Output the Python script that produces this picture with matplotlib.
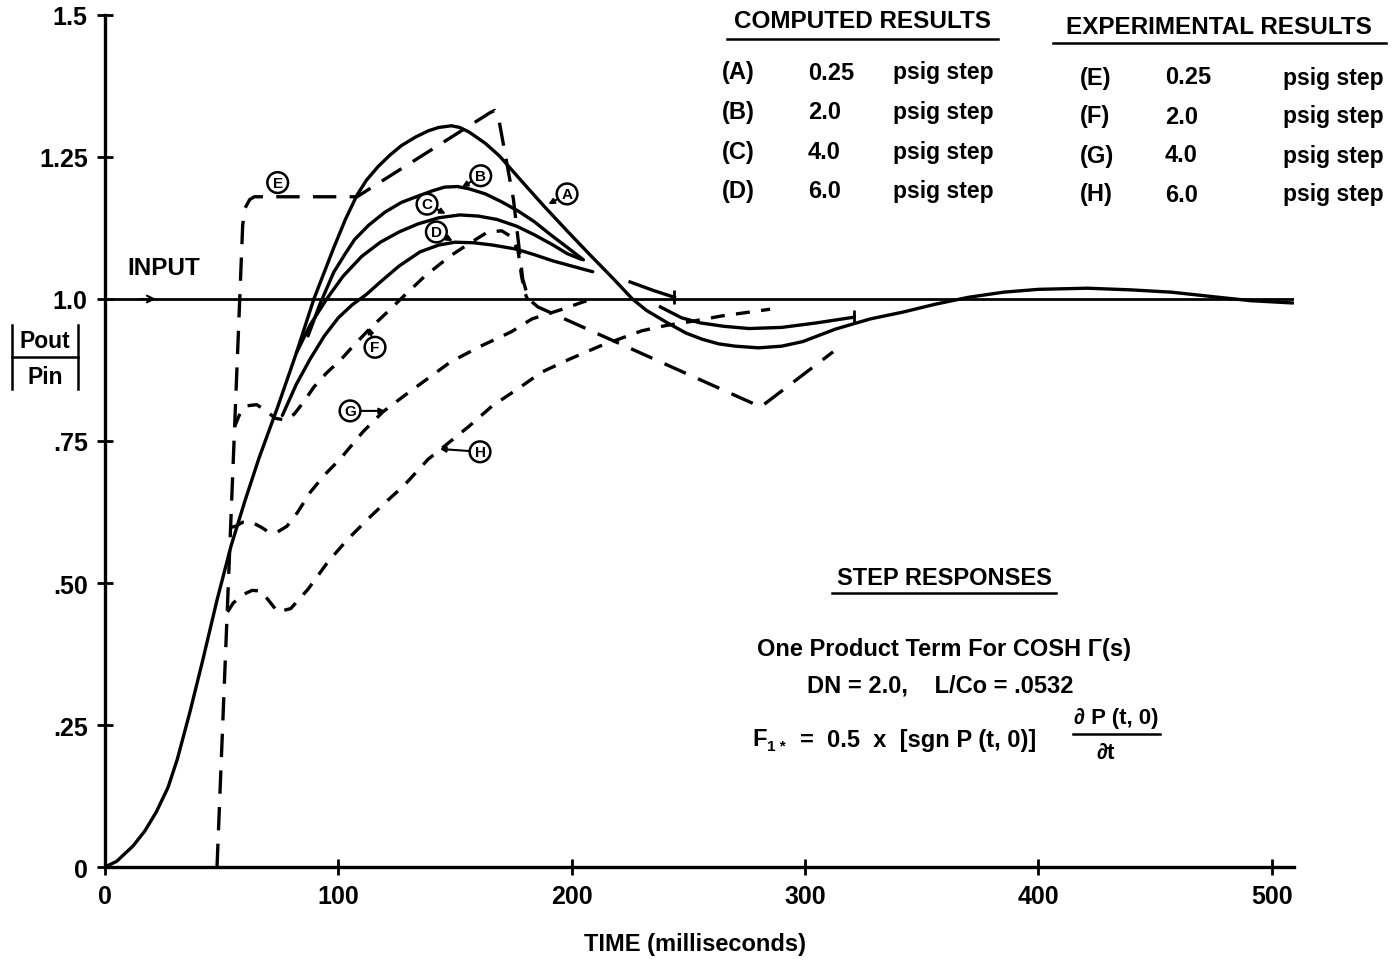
import matplotlib.pyplot as plt

plt.rcParams['font.family'] = ['Liberation Sans', 'DejaVu Sans']
plt.rcParams['font.weight'] = 'bold'

W, H = 1396, 962

# computed responses (solid)
a_t = [0, 5, 12, 17, 22, 27, 31, 36.4, 42, 48, 54, 60, 66, 74, 82, 89.5, 98, 103, 108, 112,
       117, 122, 127, 133, 138.5, 143, 148.5, 152, 156, 163, 169, 178, 188, 198, 208, 218,
       226, 232, 241, 249, 256, 263, 270, 280, 290, 299, 313, 328, 342, 356, 370, 385, 400,
       421, 440, 457, 475, 491, 509]
a_y = [0, 0.01, 0.037, 0.063, 0.097, 0.14, 0.19, 0.273, 0.366, 0.47, 0.565, 0.645, 0.72, 0.81,
       0.905, 1.0, 1.09, 1.14, 1.183, 1.209, 1.233, 1.253, 1.27, 1.285, 1.296, 1.302, 1.305,
       1.302, 1.294, 1.274, 1.252, 1.21, 1.164, 1.12, 1.077, 1.035, 1.0, 0.98, 0.958, 0.94,
       0.929, 0.921, 0.917, 0.914, 0.917, 0.925, 0.947, 0.965, 0.977, 0.991, 1.003, 1.012,
       1.017, 1.019, 1.016, 1.012, 1.004, 0.997, 0.993]

b_t = [87, 92, 98, 103, 107, 113, 120, 127, 134, 140, 145.5, 151, 156, 163, 170, 177, 184,
       191, 199, 205]
b_y = [0.935, 0.99, 1.047, 1.08, 1.105, 1.13, 1.153, 1.17, 1.181, 1.19, 1.197, 1.198, 1.194,
       1.185, 1.171, 1.155, 1.136, 1.113, 1.088, 1.069]

c_t = [82, 88, 95, 102, 110, 118, 126, 134, 143, 152, 160, 168, 176.5, 184, 192, 198, 204]
c_y = [0.905, 0.955, 1.0, 1.04, 1.075, 1.10, 1.118, 1.132, 1.143, 1.148, 1.146, 1.14, 1.128,
       1.113, 1.095, 1.08, 1.07]

d_t = [76, 82, 88, 94, 100, 106, 112, 118, 126, 135, 143, 150, 158, 166, 176, 184, 192, 200,
       209]
d_y = [0.795, 0.85, 0.895, 0.935, 0.967, 0.99, 1.008, 1.03, 1.058, 1.083, 1.095, 1.10, 1.099,
       1.095, 1.088, 1.078, 1.067, 1.058, 1.048]

# later computed pieces past the first crossing
cd_tail_t = [225, 235, 244]
cd_tail_y = [1.03, 1.015, 1.003]
b_tail_t = [238, 247, 255, 265, 276, 290, 305, 321]
b_tail_y = [0.986, 0.967, 0.958, 0.952, 0.948, 0.95, 0.958, 0.968]

# experimental responses (dashed)
e_t = [48, 59, 60, 62, 64, 108, 165, 167, 168.5, 175, 179, 181.5, 185.5, 281, 312]
e_y = [0.0, 1.13, 1.16, 1.175, 1.18, 1.18, 1.328, 1.332, 1.322, 1.176, 1.035, 1.0, 0.986,
       0.81, 0.907]

f_t = [55.5, 58, 61, 65, 69, 73, 77, 81, 85, 89.5, 95, 101, 107, 114, 121, 128, 137, 148,
       157, 164, 170, 174, 177, 178.5, 180, 181]
f_y = [0.775, 0.80, 0.812, 0.814, 0.803, 0.79, 0.787, 0.797, 0.818, 0.845, 0.87, 0.893, 0.92,
       0.95, 0.977, 1.005, 1.04, 1.076, 1.10, 1.118, 1.12, 1.11, 1.085, 1.04, 1.01, 1.0]

g_t = [54, 56, 59, 63, 67, 70, 74, 78, 82.6, 88, 94, 100.7, 110.5, 119, 128, 138, 148, 161,
       174, 183, 196, 205, 208]
g_y = [0.598, 0.60, 0.607, 0.607, 0.598, 0.59, 0.59, 0.60, 0.625, 0.66, 0.69, 0.718, 0.766,
       0.801, 0.829, 0.859, 0.889, 0.917, 0.942, 0.965, 0.982, 0.995, 0.998]

h_t = [52.5, 55, 59.4, 63, 66.7, 70, 74, 79.6, 87, 95.5, 104, 114, 121, 128, 138.5, 144, 156,
       166, 177, 187, 199, 212, 230, 240, 252, 264, 285]
h_y = [0.449, 0.465, 0.48, 0.487, 0.486, 0.47, 0.449, 0.455, 0.489, 0.537, 0.577, 0.618,
       0.645, 0.671, 0.718, 0.736, 0.776, 0.812, 0.842, 0.871, 0.894, 0.917, 0.944, 0.953,
       0.961, 0.97, 0.982]

input_t = [0, 509.5]
input_y = [1.0, 1.0]

x_ticks = [0, 100, 200, 300, 400, 500]
y_ticks = [0, 0.25, 0.5, 0.75, 1.0, 1.25, 1.5]
y_ticklabels = ['0', '.25', '.50', '.75', '1.0', '1.25', '1.5']

computed_rows = [('(A)', '0.25'), ('(B)', '2.0'), ('(C)', '4.0'), ('(D)', '6.0')]
experimental_rows = [('(E)', '0.25'), ('(F)', '2.0'), ('(G)', '4.0'), ('(H)', '6.0')]

# circled curve tags: letter, label position, point on curve
tags = [
    ('E', (74, 1.205), None),
    ('B', (161, 1.217), (153, 1.197)),
    ('A', (198, 1.185), (190, 1.167)),
    ('C', (138, 1.167), (146, 1.15)),
    ('D', (142, 1.118), (149, 1.102)),
    ('F', (115.7, 0.915), (113, 0.95)),
    ('G', (105, 0.803), (120, 0.803)),
    ('H', (160.7, 0.731), (143.5, 0.736)),
]


def fx(px):
    return px / W


def fy(py):
    return 1 - py / H


fig = plt.figure(figsize=(W / 100, H / 100), dpi=100)
ax = fig.add_axes([fx(105), fy(868), (1294 - 105) / W, (868 - 16) / H])
ax.set_xlim(0, 509.5)
ax.set_ylim(0, 1.5)

lw = 2.4
ax.plot(input_t, input_y, color='black', lw=2.0)
for t, y in [(a_t, a_y), (b_t, b_y), (c_t, c_y), (d_t, d_y)]:
    ax.plot(t, y, color='black', lw=lw, solid_capstyle='round', solid_joinstyle='round')
for t, y in [(cd_tail_t, cd_tail_y), (b_tail_t, b_tail_y)]:
    ax.plot(t, y, color='black', lw=lw, marker='|', markevery=[-1], ms=10, mew=2,
            solid_joinstyle='round')

ax.plot(e_t, e_y, color='black', lw=lw, linestyle=(0, (7, 4)), dash_joinstyle='round')
for t, y in [(f_t, f_y), (g_t, g_y), (h_t, h_y)]:
    ax.plot(t, y, color='black', lw=lw, linestyle=(0, (4.2, 3.4)), dash_joinstyle='round')

# small arrow on the input line
ax.annotate('', xy=(23, 1.0), xytext=(14, 1.0),
            arrowprops=dict(arrowstyle='->', lw=1.5, color='black', mutation_scale=12))
ax.text(9.5, 1.056, 'INPUT', fontsize=17.5, fontweight='bold', va='center', ha='left')

for letter, pos, target in tags:
    box = dict(boxstyle='circle,pad=0.22', fc='white', ec='black', lw=1.8)
    if target is None:
        ax.text(pos[0], pos[1], letter, fontsize=11, fontweight='bold', ha='center',
                va='center', bbox=box)
    else:
        ax.annotate(letter, xy=target, xytext=pos, fontsize=11, fontweight='bold',
                    ha='center', va='center', bbox=box,
                    arrowprops=dict(arrowstyle='-|>', lw=1.5, color='black',
                                    mutation_scale=8, shrinkA=0, shrinkB=0))

for side in ['top', 'right']:
    ax.spines[side].set_visible(False)
for side in ['left', 'bottom']:
    ax.spines[side].set_linewidth(2.4)
ax.set_xticks(x_ticks)
ax.set_yticks(y_ticks)
ax.set_yticklabels(y_ticklabels)
ax.tick_params(direction='inout', length=11, width=2, labelsize=18, pad=7)
for lab in ax.get_xticklabels() + ax.get_yticklabels():
    lab.set_fontweight('bold')

fig.text(fx(695), fy(945), 'TIME (milliseconds)', fontsize=17, ha='center', va='center')

# Pout / Pin axis label
fig.text(fx(45), fy(342), 'Pout', fontsize=16.5, ha='center', va='center')
fig.text(fx(45), fy(378), 'Pin', fontsize=16.5, ha='center', va='center')
fig.add_artist(plt.Line2D([fx(12), fx(78)], [fy(358), fy(358)], color='black', lw=1.8))
fig.add_artist(plt.Line2D([fx(12), fx(12)], [fy(326), fy(390)], color='black', lw=1.8))
fig.add_artist(plt.Line2D([fx(78), fx(78)], [fy(326), fy(390)], color='black', lw=1.8))

# results key
fig.text(fx(862), fy(22), 'COMPUTED RESULTS', fontsize=17.5, ha='center', va='center')
fig.add_artist(plt.Line2D([fx(727), fx(998)], [fy(40), fy(40)], color='black', lw=1.8))
fig.text(fx(1219), fy(27), 'EXPERIMENTAL RESULTS', fontsize=17.5, ha='center', va='center')
fig.add_artist(plt.Line2D([fx(1053), fx(1386)], [fy(44), fy(44)], color='black', lw=1.8))

for i, (tag, val) in enumerate(computed_rows):
    yy = 73 + i * 39.6
    fig.text(fx(722), fy(yy), tag, fontsize=17, ha='left', va='center')
    fig.text(fx(808), fy(yy), val, fontsize=17, ha='left', va='center')
    fig.text(fx(893), fy(yy), 'psig step', fontsize=16.5, ha='left', va='center')
for i, (tag, val) in enumerate(experimental_rows):
    yy = 78 + i * 39
    fig.text(fx(1080), fy(yy), tag, fontsize=17, ha='left', va='center')
    fig.text(fx(1165), fy(yy), val, fontsize=17, ha='left', va='center')
    fig.text(fx(1283), fy(yy), 'psig step', fontsize=16.5, ha='left', va='center')

# description block
fig.text(fx(944), fy(579), 'STEP RESPONSES', fontsize=17, ha='center', va='center')
fig.add_artist(plt.Line2D([fx(832), fx(1056)], [fy(594), fy(594)], color='black', lw=1.8))
fig.text(fx(944), fy(650), 'One Product Term For COSH \u0393(s)', fontsize=17, ha='center',
         va='center')
fig.text(fx(940), fy(686), 'DN = 2.0,    L/Co = .0532', fontsize=17, ha='center', va='center')
fig.text(fx(752), fy(740), 'F', fontsize=17, ha='left', va='center')
fig.text(fx(767), fy(747), '1 *', fontsize=11, ha='left', va='center')
fig.text(fx(800), fy(740), '=  0.5  x  [sgn P (t, 0)]', fontsize=17, ha='left', va='center')
fig.text(fx(1116), fy(719), '\u2202 P (t, 0)', fontsize=16, ha='center', va='center')
fig.add_artist(plt.Line2D([fx(1073), fx(1160)], [fy(735), fy(735)], color='black', lw=1.8))
fig.text(fx(1106), fy(753), '\u2202t', fontsize=16, ha='center', va='center')

fig.savefig('out.png', dpi=100, facecolor='white')
